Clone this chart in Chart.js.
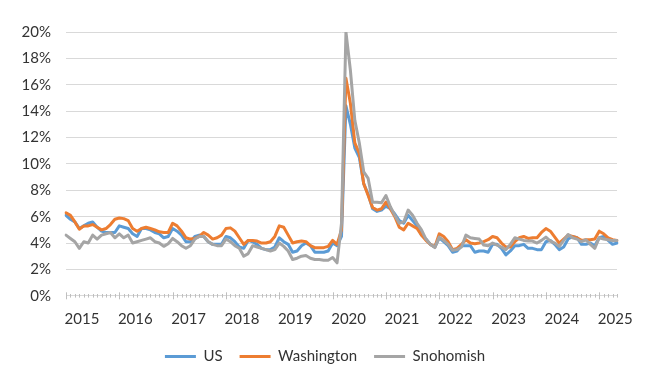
<!DOCTYPE html>
<html>
<head>
<meta charset="utf-8">
<script src="https://cdn.jsdelivr.net/npm/chart.js@4.4.0/dist/chart.umd.min.js"></script>
<style>
  html, body { margin: 0; padding: 0; background: #fff; }
  #wrap { width: 650px; height: 379px; }
</style>
</head>
<body>
<div id="wrap"><canvas id="lineChart" width="650" height="379"></canvas></div>
<script>
// tick labels on the x axis (one per January)
const years = ['2015', '2016', '2017', '2018', '2019', '2020', '2021', '2022', '2023', '2024', '2025'];
const monthNames = ['Jan', 'Feb', 'Mar', 'Apr', 'May', 'Jun', 'Jul', 'Aug', 'Sep', 'Oct', 'Nov', 'Dec'];

// monthly unemployment rate, %, Jan 2015 .. May 2025
const us = [
    6.1, 5.8, 5.6, 5.1, 5.3, 5.5, 5.6, 5.2, 4.9, 4.8, 4.8, 4.8,
    5.3, 5.2, 5.1, 4.7, 4.5, 5.1, 5.1, 5.0, 4.8, 4.7, 4.4, 4.5,
    5.1, 4.9, 4.6, 4.1, 4.1, 4.5, 4.6, 4.5, 4.1, 3.9, 3.9, 3.9,
    4.5, 4.4, 4.1, 3.7, 3.6, 4.2, 4.1, 3.9, 3.6, 3.5, 3.5, 3.7,
    4.4, 4.1, 3.9, 3.3, 3.4, 3.8, 4.0, 3.8, 3.3, 3.3, 3.3, 3.4,
    4.0, 3.8, 4.5, 14.4, 13.0, 11.2, 10.5, 8.5, 7.7, 6.6, 6.4, 6.5,
    6.8, 6.6, 6.2, 5.7, 5.5, 6.1, 5.7, 5.3, 4.6, 4.3, 3.9, 3.7,
    4.4, 4.1, 3.8, 3.3, 3.4, 3.8, 3.8, 3.8, 3.3, 3.4, 3.4, 3.3,
    3.9, 3.9, 3.6, 3.1, 3.4, 3.8, 3.8, 3.9, 3.6, 3.6, 3.5, 3.5,
    4.1, 4.2, 3.9, 3.5, 3.7, 4.3, 4.5, 4.4, 3.9, 3.9, 4.0, 3.8,
    4.4, 4.5, 4.2, 3.9, 4.0
];
const washington = [
    6.3, 6.1, 5.6, 5.05, 5.3, 5.3, 5.4, 5.2, 5.0, 5.1, 5.4, 5.8,
    5.9, 5.85, 5.7, 5.1, 4.9, 5.1, 5.2, 5.1, 5.0, 4.85, 4.8, 4.8,
    5.5, 5.3, 4.9, 4.4, 4.3, 4.35, 4.5, 4.8, 4.6, 4.3, 4.4, 4.6,
    5.1, 5.15, 4.9, 4.4, 3.9, 4.2, 4.2, 4.15, 4.0, 4.0, 4.1, 4.5,
    5.3, 5.2, 4.6, 4.0, 4.1, 4.15, 4.1, 3.8, 3.65, 3.65, 3.65, 3.75,
    4.2, 3.9, 5.0, 16.5, 14.6, 11.6, 10.8, 8.5, 7.6, 6.7, 6.5, 6.6,
    7.1, 6.6, 6.0, 5.2, 5.0, 5.5, 5.3, 5.1, 4.6, 4.2, 3.9, 3.7,
    4.7, 4.5, 4.1, 3.5, 3.6, 3.9, 4.25, 4.0, 3.95, 4.0, 4.1, 4.25,
    4.5, 4.4, 4.0, 3.7, 3.7, 4.1, 4.4, 4.5, 4.35, 4.4, 4.4, 4.8,
    5.1, 4.9, 4.45, 4.0, 4.3, 4.6, 4.5, 4.4, 4.2, 4.25, 4.25, 4.3,
    4.9, 4.7, 4.4, 4.25, 4.2
];
const snohomish = [
    4.6, 4.35, 4.1, 3.6, 4.1, 4.0, 4.6, 4.3, 4.6, 4.7, 4.8, 4.4,
    4.7, 4.4, 4.6, 4.0, 4.1, 4.2, 4.3, 4.4, 4.1, 4.0, 3.75, 3.95,
    4.35, 4.1, 3.8, 3.6, 3.8, 4.3, 4.5, 4.5, 4.1, 3.9, 3.8, 3.8,
    4.3, 4.1, 3.8, 3.6, 3.0, 3.2, 3.8, 3.7, 3.6, 3.5, 3.4, 3.5,
    4.0, 3.75, 3.4, 2.75, 2.85, 3.0, 3.05, 2.85, 2.75, 2.75, 2.7, 2.7,
    2.9, 2.5, 5.5, 20.0, 17.1, 13.3, 11.6, 9.4, 8.9, 7.1, 7.1, 7.05,
    7.6, 6.75, 6.1, 5.5, 5.6, 6.5, 6.1, 5.5, 5.0, 4.3, 3.9, 3.65,
    4.45, 4.2, 3.9, 3.45, 3.5, 3.7, 4.6, 4.4, 4.35, 4.3, 3.85, 3.8,
    4.0, 3.85, 3.7, 3.5, 3.9, 4.4, 4.3, 4.2, 4.15, 4.15, 4.0, 4.2,
    4.45, 4.15, 4.0, 3.75, 4.2, 4.65, 4.4, 4.3, 4.1, 4.25, 3.9, 3.6,
    4.4, 4.3, 4.25, 4.2, 4.2
];

const months = [];
for (let i = 0; i < us.length; i++) {
    months.push(monthNames[i % 12] + ' ' + years[Math.floor(i / 12)]);
}

// Excel-style cross tick marks on the date axis: long ones at each year, short ones each month
const tickMarks = {
    id: 'tickMarks',
    afterDraw(chart) {
        const xs = chart.scales.x;
        const c = chart.ctx;
        const y0 = chart.chartArea.bottom;
        c.save();
        c.strokeStyle = '#bfbfbf';
        c.lineWidth = 1;
        c.beginPath();
        for (let i = 0; i < months.length; i++) {
            const x = Math.round(xs.getPixelForValue(i)) + 0.5;
            const len = i % 12 === 0 ? 3.5 : 1.8;
            c.moveTo(x, y0 - len);
            c.lineTo(x, y0 + len);
        }
        c.stroke();
        c.restore();
    }
};

const ctxLine = document.getElementById('lineChart');
new Chart(ctxLine, {
    type: 'line',
    data: {
        labels: months,
        datasets: [{
            label: 'US',
            data: us,
            borderColor: '#5B9BD5',
            backgroundColor: '#5B9BD5',
            order: 3
        }, {
            label: 'Washington',
            data: washington,
            borderColor: '#ED7D31',
            backgroundColor: '#ED7D31',
            order: 2
        }, {
            label: 'Snohomish',
            data: snohomish,
            borderColor: '#A5A5A5',
            backgroundColor: '#A5A5A5',
            order: 1
        }]
    },
    options: {
        responsive: false,
        animation: false,
        devicePixelRatio: 1,
        layout: {
            padding: { left: 0, right: 0, top: 32, bottom: 5 }
        },
        elements: {
            point: { radius: 0 },
            line: { borderWidth: 3, tension: 0, borderJoinStyle: 'round', borderCapStyle: 'round', fill: false }
        },
        scales: {
            x: {
                grid: { display: false, drawTicks: false },
                border: { display: true, color: '#d9d9d9', width: 1 },
                ticks: {
                    autoSkip: false,
                    maxRotation: 0,
                    padding: 14,
                    labelOffset: 16,
                    color: '#333',
                    font: { family: 'Lato', size: 15 },
                    callback: function (value, index) {
                        return index % 12 === 0 ? years[index / 12] : '';
                    }
                },
                afterFit: function (scale) {
                    scale.height = 36.2;
                }
            },
            y: {
                min: 0,
                max: 20,
                grid: { color: '#d9d9d9', drawTicks: false },
                border: { display: false },
                ticks: {
                    stepSize: 2,
                    padding: 15,
                    color: '#333',
                    font: { family: 'Lato', size: 15 },
                    callback: function (value) {
                        return value + '%';
                    }
                },
                afterFit: function (scale) {
                    scale.width = 66;
                }
            },
            // empty right-hand strip so the plot ends where the reference does
            yRight: {
                position: 'right',
                grid: { display: false, drawTicks: false },
                border: { display: false },
                ticks: { display: false },
                afterFit: function (scale) {
                    scale.width = 33;
                }
            }
        },
        plugins: {
            tooltip: { enabled: false },
            legend: {
                position: 'bottom',
                labels: {
                    boxWidth: 31,
                    boxHeight: 3,
                    padding: 17,
                    color: '#333',
                    font: { family: 'Lato', size: 15 },
                    sort: function (a, b) {
                        return a.datasetIndex - b.datasetIndex;
                    },
                    generateLabels: function (chart) {
                        const items = Chart.defaults.plugins.legend.labels.generateLabels(chart);
                        items.forEach(function (it) {
                            it.fillStyle = it.strokeStyle;
                            it.lineWidth = 0;
                        });
                        return items;
                    }
                }
            }
        }
    },
    plugins: [tickMarks]
});
</script>
</body>
</html>
